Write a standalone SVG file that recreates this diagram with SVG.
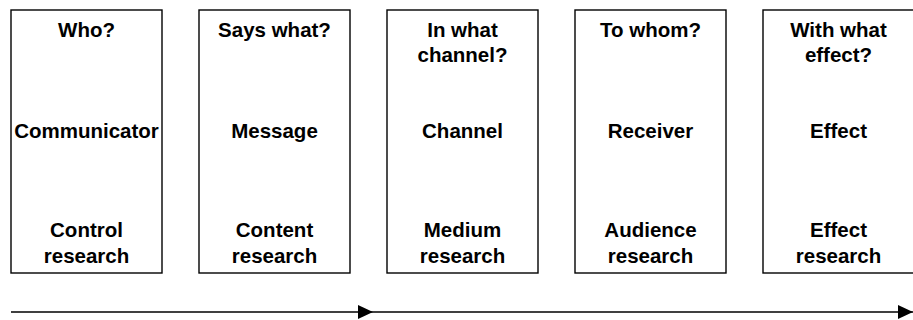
<svg xmlns="http://www.w3.org/2000/svg" width="913" height="320" viewBox="0 0 913 320">
  <style>
    .box { fill: #fff; stroke: #000; stroke-width: 1.4; }
    .lbl { font-family: "Liberation Sans", Arial, sans-serif; font-weight: bold; font-size: 20.5px; text-anchor: middle; fill: #000; }
    .line { stroke: #000; stroke-width: 1.4; fill: none; }
  </style>
  <defs>
    <marker id="arrow" viewBox="0 0 15 14" refX="15" refY="7" markerWidth="15" markerHeight="14" markerUnits="userSpaceOnUse" orient="auto">
      <path d="M0,0 L15,7 L0,14 Z" fill="#000"/>
    </marker>
  </defs>
  <rect width="913" height="320" fill="#fff"/>

  <g id="who">
    <rect class="box" x="11" y="10" width="151" height="263"/>
    <text class="lbl" x="86.5" y="37">Who?</text>
    <text class="lbl" x="86.5" y="138">Communicator</text>
    <text class="lbl" x="86.5" y="237">Control</text>
    <text class="lbl" x="86.5" y="263">research</text>
  </g>

  <g id="says-what">
    <rect class="box" x="199" y="10" width="151" height="263"/>
    <text class="lbl" x="274.5" y="37">Says what?</text>
    <text class="lbl" x="274.5" y="138">Message</text>
    <text class="lbl" x="274.5" y="237">Content</text>
    <text class="lbl" x="274.5" y="263">research</text>
  </g>

  <g id="in-what-channel">
    <rect class="box" x="387" y="10" width="151" height="263"/>
    <text class="lbl" x="462.5" y="37">In what</text>
    <text class="lbl" x="462.5" y="62">channel?</text>
    <text class="lbl" x="462.5" y="138">Channel</text>
    <text class="lbl" x="462.5" y="237">Medium</text>
    <text class="lbl" x="462.5" y="263">research</text>
  </g>

  <g id="to-whom">
    <rect class="box" x="575" y="10" width="151" height="263"/>
    <text class="lbl" x="650.5" y="37">To whom?</text>
    <text class="lbl" x="650.5" y="138">Receiver</text>
    <text class="lbl" x="650.5" y="237">Audience</text>
    <text class="lbl" x="650.5" y="263">research</text>
  </g>

  <g id="with-what-effect">
    <rect class="box" x="763" y="10" width="152" height="263"/>
    <text class="lbl" x="838.5" y="37">With what</text>
    <text class="lbl" x="838.5" y="62">effect?</text>
    <text class="lbl" x="838.5" y="138">Effect</text>
    <text class="lbl" x="838.5" y="237">Effect</text>
    <text class="lbl" x="838.5" y="263">research</text>
  </g>

  <g id="connectors">
    <line class="line" x1="11" y1="312" x2="373" y2="312" marker-end="url(#arrow)"/>
    <line class="line" x1="373" y1="312" x2="913" y2="312" marker-end="url(#arrow)"/>
  </g>
</svg>
